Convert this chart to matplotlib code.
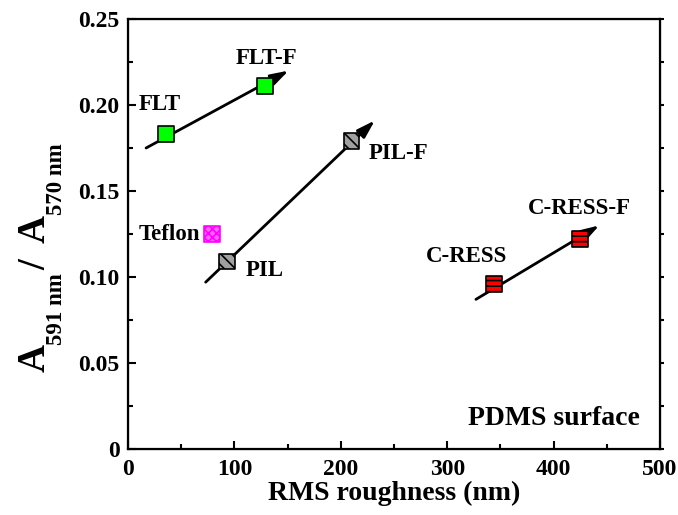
import matplotlib
matplotlib.use('Agg')
from matplotlib import pyplot as plt

plt.rcParams['font.family'] = 'Liberation Serif'
plt.rcParams['font.weight'] = 'bold'
plt.rcParams['hatch.linewidth'] = 1.2

# samples: RMS roughness (nm) and A591/A570 ratio
names = ['FLT', 'FLT-F', 'PIL', 'PIL-F', 'C-RESS', 'C-RESS-F', 'Teflon']
rms = [36, 129, 93, 210, 344, 425, 79]
ratio = [0.183, 0.211, 0.109, 0.179, 0.096, 0.122, 0.125]
faces = ['#00ff00', '#00ff00', '#a0a0a0', '#a0a0a0', '#ff0000', '#ff0000', '#ff66ff']
edges = ['k', 'k', 'k', 'k', 'k', 'k', '#ff00ff']
hatches = [None, None, '\\\\\\', '\\\\\\', '---', '---', 'xxxx']

# trend arrows (start -> end)
arr_x0 = [17, 73, 327]
arr_y0 = [0.175, 0.097, 0.087]
arr_x1 = [151, 232, 443]
arr_y1 = [0.220, 0.191, 0.130]

# label positions
lab_x = [30, 130, 111, 226, 356, 424, 68]
lab_y = [0.200, 0.227, 0.104, 0.172, 0.112, 0.140, 0.125]
lab_ha = ['center', 'center', 'left', 'left', 'right', 'center', 'right']

yticks = [0, 0.05, 0.10, 0.15, 0.20, 0.25]
ytick_labels = ['0', '0.05', '0.10', '0.15', '0.20', '0.25']
yminor = [0.025, 0.075, 0.125, 0.175, 0.225]
xticks = [0, 100, 200, 300, 400, 500]
xminor = [50, 150, 250, 350, 450]

W, H = 678, 515
fig = plt.figure(figsize=(W / 100, H / 100), dpi=100)
ax = fig.add_axes([128 / W, 66 / H, 532 / W, 430 / H])

for i in range(len(arr_x0)):
    ax.annotate('', xy=(arr_x1[i], arr_y1[i]), xytext=(arr_x0[i], arr_y0[i]),
                arrowprops=dict(arrowstyle='-|>,head_length=0.9,head_width=0.28',
                                color='k', lw=2, mutation_scale=12,
                                shrinkA=0, shrinkB=0))

for i in range(len(names)):
    ax.scatter(rms[i], ratio[i], s=125, marker='s', facecolor=faces[i],
               edgecolor=edges[i], hatch=hatches[i], linewidth=1.2, zorder=3)
    ax.text(lab_x[i], lab_y[i], names[i], ha=lab_ha[i], va='center',
            fontsize=16.5, fontweight='bold')

ax.text(481, 0.014, 'PDMS surface', ha='right', va='baseline', fontsize=20,
        fontweight='bold')

ax.set_xlim(0, 500)
ax.set_ylim(0, 0.25)
ax.set_xticks(xticks)
ax.set_xticks(xminor, minor=True)
ax.set_yticks(yticks)
ax.set_yticklabels(ytick_labels)
ax.set_yticks(yminor, minor=True)
ax.tick_params(which='both', direction='in', width=1.5, labelsize=17)
ax.tick_params(which='major', length=6)
ax.tick_params(which='minor', length=3.5)
ax.tick_params(axis='y', pad=6)
ax.tick_params(axis='x', pad=7)
for s in ax.spines.values():
    s.set_linewidth(1.6)

# short outward ticks on the right side
ax2 = ax.twinx()
ax2.set_ylim(0, 0.25)
ax2.set_yticks(yticks)
ax2.set_yticks(yminor, minor=True)
ax2.tick_params(which='both', direction='out', length=3, width=1.5, labelright=False)

ax.set_xlabel('RMS roughness (nm)', fontsize=20, fontweight='bold', labelpad=1)

# y label built from pieces: big A, small subscripts
ylab = [('A', 28, 45, 372), ('591 nm', 16.5, 62, 345), ('/', 28, 45, 270),
        ('A', 28, 45, 243), ('570 nm', 16.5, 62, 215)]
for txt, size, xb, ys in ylab:
    fig.text(xb / W, 1 - ys / H, txt, rotation=90, rotation_mode='anchor',
             ha='left', va='baseline', fontsize=size, fontweight='bold')

fig.savefig('out.png', dpi=100)
